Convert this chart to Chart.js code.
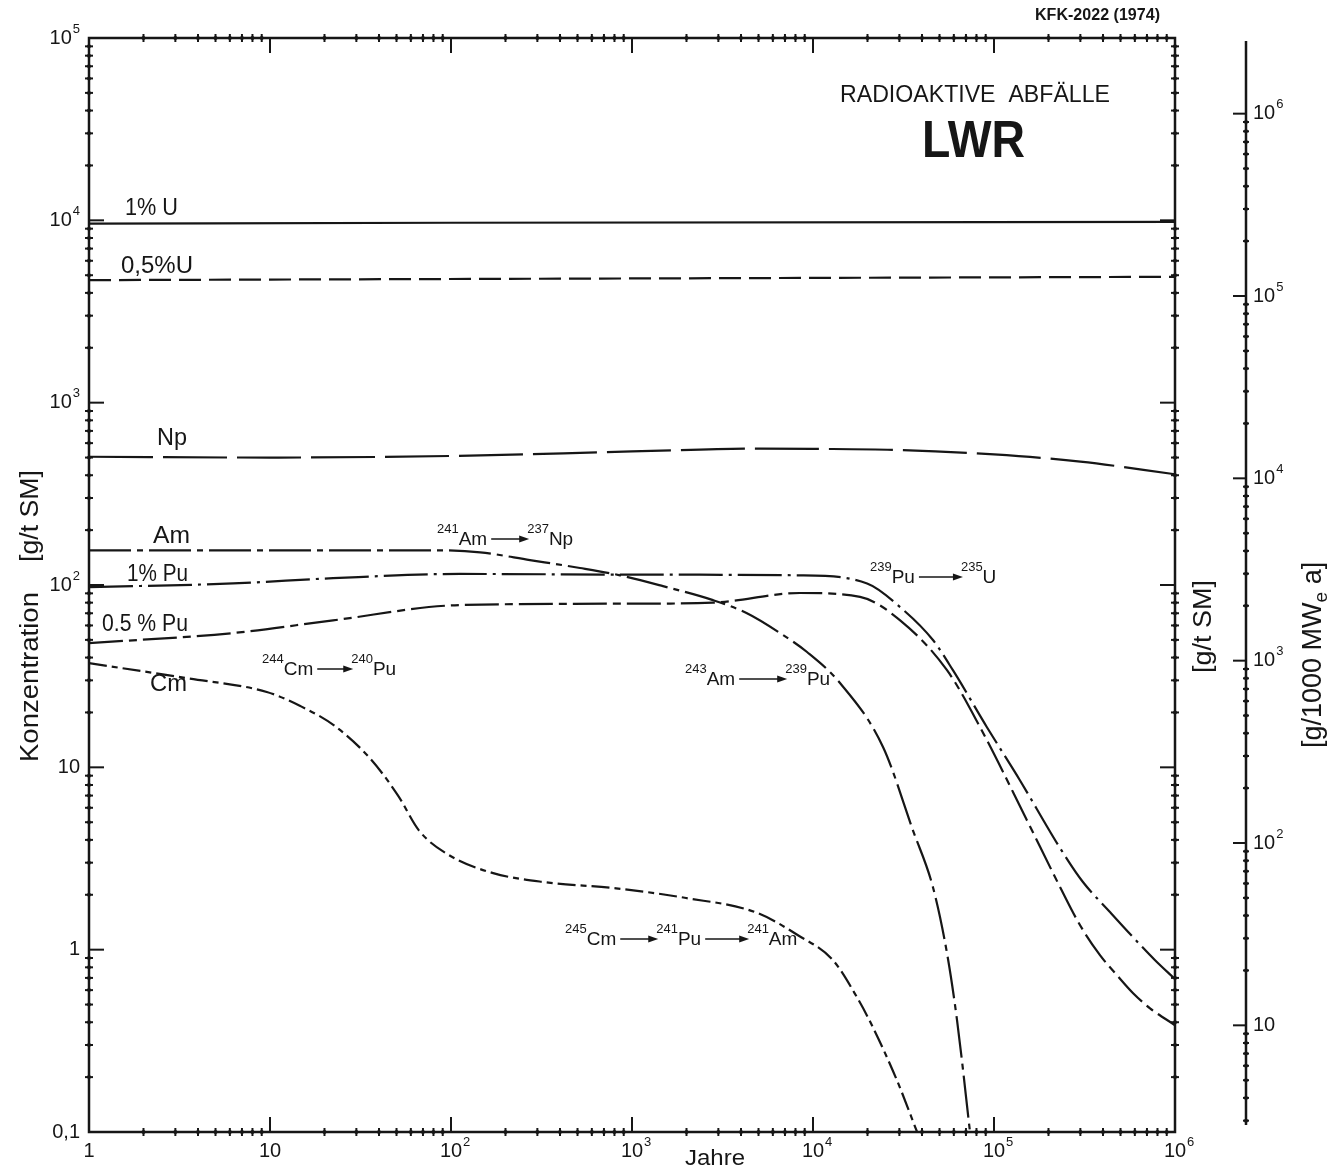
<!DOCTYPE html>
<html>
<head>
<meta charset="utf-8">
<script src="https://cdn.jsdelivr.net/npm/chart.js@4.4.1/dist/chart.umd.min.js"></script>
<style>
html,body{margin:0;padding:0;background:#fff}
#wrap{width:1336px;height:1172px}
</style>
</head>
<body>
<div id="wrap"><canvas id="lwrChart" width="1336" height="1172"></canvas></div>
<script>
// Radioaktive Abfaelle LWR - Konzentration ueber Jahre (log-log)

const yearsU1 = [1, 100, 1e6];
const concU1 = [9600, 9700, 9800];

const yearsU05 = [1, 1000, 1e6];
const concU05 = [4700, 4800, 4900];

const yearsNp = [1, 10, 100, 1000, 5000, 1e4, 3e4, 1e5, 3e5, 1e6];
const concNp = [505, 500, 510, 540, 560, 558, 550, 520, 475, 405];

const yearsAm = [1, 10, 84, 145, 273, 516, 859, 1483, 2803, 4318, 6577, 9268, 14100, 24400, 35700, 46000, 55000, 62500, 73700];
const concAm = [155, 155, 155, 151, 137, 124, 113, 98.6, 82.6, 70, 54.5, 42.9, 29, 12.9, 4.5, 2.2, 0.957, 0.41, 0.1];

const yearsPu1 = [1, 6.25, 22.3, 112, 1000, 8480, 19900, 30300, 46000, 59300, 91400, 139000, 232000, 310000, 437000, 587000, 776000, 1e6];
const concPu1 = [97.3, 102, 109, 115, 114, 113, 102, 75.6, 49.9, 34.1, 16.6, 8.5, 3.6, 2.35, 1.61, 1.17, 0.875, 0.69];

const yearsPu05 = [1, 6.25, 22.3, 112, 1000, 2800, 8480, 18200, 30300, 55000, 83800, 152000, 232000, 299000, 385000, 478000, 587000, 728000, 1e6];
const concPu05 = [48, 54.5, 64, 77.6, 79, 80, 90.4, 86, 64, 34.1, 16.6, 5.13, 2.2, 1.36, 0.933, 0.724, 0.577, 0.477, 0.385];

const yearsCm = [1, 3.48, 9.6, 14.7, 22.9, 35.7, 51, 66.6, 97.5, 171, 335, 817, 1990, 4840, 8260, 12900, 17500, 21400, 29100, 37600];
const concCm = [37.3, 30.8, 25.9, 21.7, 16.8, 11.2, 7.0, 4.5, 3.3, 2.63, 2.34, 2.17, 1.92, 1.60, 1.20, 0.875, 0.548, 0.376, 0.192, 0.1];

// tick values
const yearTicks = [1, 10, 100, 1e3, 1e4, 1e5, 1e6];
const concTicks = [0.1, 1, 10, 100, 1e3, 1e4, 1e5];
const mweTicks = [10, 1e2, 1e3, 1e4, 1e5, 1e6];

// g/t SM -> g/1000 MWe a
const MWE_FACTOR = 26;

const FONT = '"Liberation Sans", "DejaVu Sans", Arial, sans-serif';
const INK = "#161616";

function pts(xs, ys){
  return xs.map((x, i) => ({x: x, y: ys[i]}));
}

function tickText(v){
  if (v === 0.1) return ["0,1", ""];
  if (v === 1) return ["1", ""];
  if (v === 10) return ["10", ""];
  return ["10", String(Math.round(Math.log10(v)))];
}

function txt(ctx, s, x, y, size, o){
  o = o || {};
  ctx.save();
  ctx.font = (o.bold ? "bold " : "") + size + "px " + FONT;
  ctx.fillStyle = INK;
  ctx.textAlign = "left";
  ctx.textBaseline = "alphabetic";
  ctx.translate(x, y);
  if (o.rot) ctx.rotate(o.rot);
  if (o.w){
    const m = ctx.measureText(s).width;
    ctx.scale(o.w / m, 1);
  }
  ctx.fillText(s, 0, 0);
  ctx.restore();
}

function powLabel(ctx, x, y, v, align){
  const t = tickText(v);
  ctx.save();
  ctx.fillStyle = INK;
  ctx.textBaseline = "middle";
  ctx.textAlign = "left";
  ctx.font = "20px " + FONT;
  const wb = ctx.measureText(t[0]).width;
  ctx.font = "13px " + FONT;
  const we = t[1] ? ctx.measureText(t[1]).width + 1 : 0;
  let x0 = x;
  if (align === "right") x0 = x - wb - we;
  else if (align === "center") x0 = x - wb / 2;
  ctx.font = "20px " + FONT;
  ctx.fillText(t[0], x0, y);
  if (t[1]){
    ctx.font = "13px " + FONT;
    ctx.fillText(t[1], x0 + wb + 1, y - 9);
  }
  ctx.restore();
}

function line(ctx, x1, y1, x2, y2){
  ctx.beginPath();
  ctx.moveTo(x1, y1);
  ctx.lineTo(x2, y2);
  ctx.stroke();
}

function cross(ctx, x, y, vertical, len){
  len = len || 4;
  if (vertical) line(ctx, x, y - len, x, y + len);
  else line(ctx, x - len, y, x + len, y);
  ctx.beginPath();
  ctx.arc(x, y, 2, 0, Math.PI * 2);
  ctx.fill();
}

function minorVals(lo, hi){
  const out = [];
  for (let e = Math.floor(Math.log10(lo)); e < Math.ceil(Math.log10(hi)); e++){
    for (let m = 2; m <= 9; m++){
      const v = m * Math.pow(10, e);
      if (v > lo * 1.0001 && v < hi * 0.9999) out.push(v);
    }
  }
  return out;
}

function arrow(ctx, x1, x2, y){
  ctx.save();
  ctx.lineWidth = 1.5;
  line(ctx, x1, y, x2 - 6, y);
  ctx.beginPath();
  ctx.moveTo(x2, y);
  ctx.lineTo(x2 - 10, y - 3.5);
  ctx.lineTo(x2 - 10, y + 3.5);
  ctx.closePath();
  ctx.fill();
  ctx.restore();
}

// isotope chain like 244Cm -> 240Pu
function chain(ctx, x, y, items, arrows){
  let cx = x;
  ctx.save();
  ctx.fillStyle = INK;
  ctx.strokeStyle = INK;
  ctx.textBaseline = "alphabetic";
  ctx.textAlign = "left";
  items.forEach((it, i) => {
    if (i > 0){
      arrow(ctx, cx + 2, cx + arrows[i - 1], y - 6);
      cx += arrows[i - 1] - 2;
    }
    ctx.font = "13px " + FONT;
    ctx.fillText(it[0], cx, y - 12);
    cx += ctx.measureText(it[0]).width;
    ctx.font = "19px " + FONT;
    ctx.fillText(it[1], cx, y);
    cx += ctx.measureText(it[1]).width + 2;
  });
  ctx.restore();
}

const frame = {
  id: "frame",
  beforeDatasetsDraw(chart){
    const ctx = chart.ctx;
    const xs = chart.scales.x, ys = chart.scales.y, y2 = chart.scales.y2;
    const L = chart.chartArea.left, R = chart.chartArea.right;
    const T = chart.chartArea.top, B = chart.chartArea.bottom;
    ctx.save();
    ctx.strokeStyle = INK;
    ctx.fillStyle = INK;
    ctx.lineWidth = 2.5;
    ctx.strokeRect(L, T, R - L, B - T);

    ctx.lineWidth = 2;
    minorVals(1, 1e6).forEach(v => {
      const px = xs.getPixelForValue(v);
      cross(ctx, px, T, true);
      cross(ctx, px, B, true);
    });
    yearTicks.slice(1, -1).forEach(v => {
      const px = xs.getPixelForValue(v);
      line(ctx, px, T, px, T + 15);
      line(ctx, px, B, px, B - 15);
    });
    minorVals(0.1, 1e5).forEach(v => {
      const py = ys.getPixelForValue(v);
      cross(ctx, L, py, false);
      cross(ctx, R, py, false);
    });
    concTicks.slice(1, -1).forEach(v => {
      const py = ys.getPixelForValue(v);
      line(ctx, L, py, L + 15, py);
      line(ctx, R, py, R - 15, py);
    });

    // second right axis g/1000 MWe a
    const AX = 1246;
    ctx.lineWidth = 2.5;
    line(ctx, AX, T + 3, AX, B - 7);
    ctx.lineWidth = 2;
    minorVals(3, 1e6).concat([3]).forEach(v => {
      cross(ctx, AX, y2.getPixelForValue(v), false, 3);
    });
    mweTicks.forEach(v => {
      const py = y2.getPixelForValue(v);
      line(ctx, AX - 13, py, AX + 1, py);
    });
    ctx.restore();

    // tick labels
    yearTicks.forEach(v => powLabel(ctx, xs.getPixelForValue(v), B + 19, v, "center"));
    concTicks.forEach(v => powLabel(ctx, 80, ys.getPixelForValue(v), v, "right"));
    mweTicks.forEach(v => powLabel(ctx, AX + 7, y2.getPixelForValue(v), v, "left"));
  },
  afterDatasetsDraw(chart){
    const ctx = chart.ctx;
    const up = -Math.PI / 2;

    // axis titles
    txt(ctx, "Konzentration", 38, 762, 26, {rot: up, w: 170});
    txt(ctx, "[g/t SM]", 38, 562, 26, {rot: up, w: 92});
    txt(ctx, "Jahre", 685, 1165, 22, {w: 60});
    txt(ctx, "[g/t SM]", 1211, 673, 26, {rot: up, w: 93});

    // [g/1000 MWe a] with subscript e
    ctx.save();
    ctx.translate(1321, 748);
    ctx.rotate(up);
    ctx.fillStyle = INK;
    ctx.font = "27px " + FONT;
    let cx = 0;
    ctx.fillText("[g/1000 MW", cx, 0);
    cx += ctx.measureText("[g/1000 MW").width;
    ctx.font = "19px " + FONT;
    ctx.fillText("e", cx, 6);
    cx += ctx.measureText("e").width;
    ctx.font = "27px " + FONT;
    ctx.fillText(" a]", cx, 0);
    ctx.restore();

    // header
    txt(ctx, "KFK-2022 (1974)", 1035, 20, 16, {bold: true, w: 125});
    txt(ctx, "RADIOAKTIVE  ABFÄLLE", 840, 102, 23, {w: 270});
    txt(ctx, "LWR", 922, 157, 52, {bold: true, w: 103});

    // curve labels
    txt(ctx, "1% U", 125, 215, 24, {w: 53});
    txt(ctx, "0,5%U", 121, 273, 24, {w: 72});
    txt(ctx, "Np", 157, 445, 24, {w: 30});
    txt(ctx, "Am", 153, 543, 24, {w: 37});
    txt(ctx, "1% Pu", 127, 581, 24, {w: 61});
    txt(ctx, "0.5 % Pu", 102, 631, 24, {w: 86});
    txt(ctx, "Cm", 150, 691, 24, {w: 37});

    // decay chains
    chain(ctx, 262, 675, [["244", "Cm"], ["240", "Pu"]], [38]);
    chain(ctx, 437, 545, [["241", "Am"], ["237", "Np"]], [40]);
    chain(ctx, 685, 685, [["243", "Am"], ["239", "Pu"]], [50]);
    chain(ctx, 870, 583, [["239", "Pu"], ["235", "U"]], [46]);
    chain(ctx, 565, 945, [["245", "Cm"], ["241", "Pu"], ["241", "Am"]], [40, 46]);
  }
};

function curve(label, xs, ys, dash){
  return {
    label: label,
    data: pts(xs, ys),
    borderColor: INK,
    borderWidth: 2.2,
    borderDash: dash,
    pointRadius: 0,
    fill: false,
    cubicInterpolationMode: "monotone"
  };
}

new Chart(
document.getElementById("lwrChart"),
{
type: "line",

data: {
datasets: [
curve("1% U", yearsU1, concU1, []),
curve("0,5% U", yearsU05, concU05, [22, 8]),
curve("Np", yearsNp, concNp, [64, 10]),
curve("Am", yearsAm, concAm, [42, 6, 6, 6]),
curve("1% Pu", yearsPu1, concPu1, [44, 6, 3, 6]),
curve("0,5% Pu", yearsPu05, concPu05, [34, 6, 8, 6]),
curve("Cm", yearsCm, concCm, [18, 5, 6, 5])
]
},

options: {
responsive: false,
animation: false,
devicePixelRatio: 1,
layout: {padding: {left: 89, right: 161, top: 38, bottom: 40}},
plugins: {legend: {display: false}, tooltip: {enabled: false}},
scales: {
x: {type: "logarithmic", min: 1, max: 1e6, display: false},
y: {type: "logarithmic", min: 0.1, max: 1e5, display: false},
y2: {type: "logarithmic", position: "right", min: 0.1 * MWE_FACTOR, max: 1e5 * MWE_FACTOR, display: false}
}
},

plugins: [frame]
}
);
</script>
</body>
</html>
